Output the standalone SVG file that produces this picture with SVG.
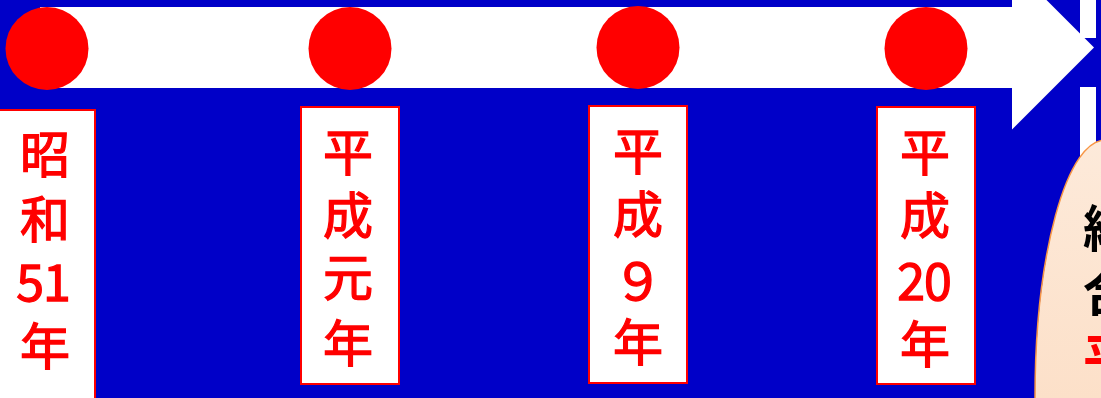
<svg xmlns="http://www.w3.org/2000/svg" width="1101" height="398" viewBox="0 0 1101 398">
  <defs>
    <linearGradient id="peach" x1="0" y1="0" x2="0" y2="1">
      <stop offset="0" stop-color="#FDEADA"/>
      <stop offset="1" stop-color="#FBD3B2"/>
    </linearGradient>
  </defs>
  <style>
    .bg { fill: #0000C8; }
    .dot { fill: #FF0000; }
    .box { fill: #FFFFFF; stroke: #FF0000; stroke-width: 2; }
    .lbl { font-family: "Noto Sans CJK JP", "Noto Sans", sans-serif; font-size: 50px; font-weight: 400; fill: #FF0000; stroke: #FF0000; stroke-width: 1.3; text-anchor: middle; }
    .note { font-family: "Noto Sans CJK JP", "Noto Sans", sans-serif; font-size: 50px; font-weight: 700; fill: #000000; }
    .bar { fill: #FFFFFF; }
  </style>
  <rect class="bg" x="0" y="0" width="1101" height="398"/>

  <g id="connectors">
    <rect class="bar" x="1080" y="-2" width="16" height="40"/>
    <rect class="bar" x="1080" y="87" width="16" height="80"/>
    <polygon fill="#FFFFFF" points="40,7 1012,7 1012,-34.5 1094,47.5 1012,129.5 1012,88 40,88"/>
  </g>

  <g id="node-s51">
    <circle class="dot" cx="47" cy="48.5" r="41.5"/>
    <rect class="box" x="-3" y="110" width="98" height="300"/>
    <text class="lbl" x="45" y="173">昭</text>
    <text class="lbl" x="45" y="238">和</text>
    <text class="lbl" x="43" y="301" letter-spacing="-1">51</text>
    <text class="lbl" x="45" y="365">年</text>
  </g>

  <g id="node-h1">
    <circle class="dot" cx="350" cy="48.5" r="41.5"/>
    <rect class="box" x="301" y="107" width="98" height="277"/>
    <text class="lbl" x="348" y="171">平</text>
    <text class="lbl" x="348" y="234">成</text>
    <text class="lbl" x="348" y="296">元</text>
    <text class="lbl" x="348" y="362">年</text>
  </g>

  <g id="node-h9">
    <circle class="dot" cx="638" cy="47.5" r="41.5"/>
    <rect class="box" x="589" y="106" width="98" height="277"/>
    <text class="lbl" x="638" y="170">平</text>
    <text class="lbl" x="638" y="233">成</text>
    <text class="lbl" x="638" y="300">９</text>
    <text class="lbl" x="638" y="361">年</text>
  </g>

  <g id="node-h20">
    <circle class="dot" cx="926" cy="48.5" r="41.5"/>
    <rect class="box" x="877" y="107" width="98" height="277"/>
    <text class="lbl" x="925" y="171">平</text>
    <text class="lbl" x="925" y="234">成</text>
    <text class="lbl" x="924" y="300" letter-spacing="-1">20</text>
    <text class="lbl" x="925" y="363">年</text>
  </g>

  <g id="node-note">
    <rect x="1035" y="140" width="200" height="600" rx="70" ry="258" fill="url(#peach)" stroke="#F79646" stroke-width="1.5"/>
    <text class="note" x="1083" y="247">総</text>
    <text class="note" x="1083" y="311">合</text>
    <text class="note" x="1083" y="376" style="fill:#FF0000">平</text>
  </g>
</svg>
